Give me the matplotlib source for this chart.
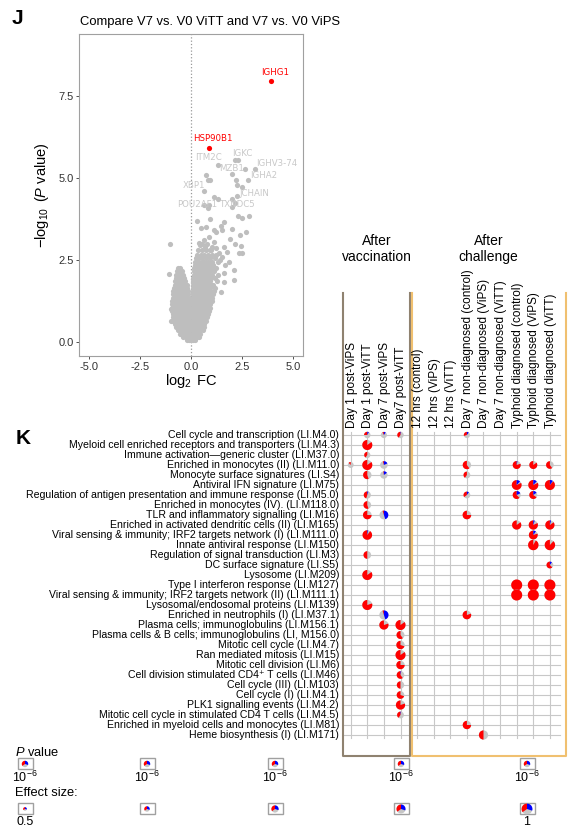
import numpy as np
import matplotlib.pyplot as plt
import matplotlib.transforms as mtransforms
from matplotlib.patches import Wedge, Circle, Rectangle

plt.rcParams['font.family'] = ['Liberation Sans', 'DejaVu Sans']
plt.rcParams['mathtext.fontset'] = 'custom'
plt.rcParams['mathtext.rm'] = 'Liberation Sans'
plt.rcParams['mathtext.it'] = 'Liberation Sans:italic'

# ---------------- panel J : volcano ----------------
# dense cloud, read row by row (y level, x values)
cloud_rows = [
    (0.05, [-0.22, -0.11, 0.0, 0.11, 0.22]),
    (0.15, [-0.38, -0.27, -0.16, -0.05, 0.06, 0.17, 0.28, 0.38]),
    (0.25, [-0.52, -0.40, -0.28, -0.16, -0.04, 0.08, 0.20, 0.32, 0.45]),
    (0.35, [-0.63, -0.51, -0.39, -0.27, -0.15, -0.03, 0.09, 0.21, 0.33, 0.45, 0.57]),
    (0.45, [-0.73, -0.61, -0.49, -0.37, -0.25, -0.13, -0.01, 0.11, 0.23, 0.35, 0.47, 0.62]),
    (0.55, [-0.80, -0.68, -0.56, -0.44, -0.32, -0.20, -0.08, 0.04, 0.16, 0.28, 0.40, 0.52, 0.66]),
    (0.65, [-0.87, -0.75, -0.63, -0.51, -0.39, -0.27, -0.15, -0.03, 0.09, 0.21, 0.33, 0.45, 0.57, 0.72]),
    (0.75, [-0.89, -0.77, -0.65, -0.53, -0.41, -0.29, -0.17, -0.05, 0.07, 0.19, 0.31, 0.43, 0.55, 0.67, 0.80]),
    (0.85, [-0.90, -0.78, -0.66, -0.54, -0.42, -0.30, -0.18, -0.06, 0.07, 0.19, 0.31, 0.43, 0.55, 0.67, 0.84]),
    (0.95, [-0.91, -0.79, -0.67, -0.55, -0.43, -0.31, -0.19, -0.07, 0.07, 0.19, 0.31, 0.43, 0.55, 0.67, 0.79, 0.88]),
    (1.05, [-0.92, -0.80, -0.68, -0.56, -0.44, -0.32, -0.20, -0.08, 0.06, 0.18, 0.30, 0.42, 0.54, 0.66, 0.78, 0.92]),
    (1.15, [-0.92, -0.80, -0.68, -0.56, -0.44, -0.32, -0.20, -0.07, 0.07, 0.19, 0.31, 0.43, 0.55, 0.67, 0.79, 0.95]),
    (1.25, [-0.91, -0.79, -0.67, -0.55, -0.43, -0.31, -0.19, -0.06, 0.07, 0.19, 0.31, 0.43, 0.55, 0.67, 0.79, 0.91, 1.02]),
    (1.35, [-0.90, -0.78, -0.66, -0.54, -0.42, -0.30, -0.18, -0.07, 0.08, 0.20, 0.32, 0.44, 0.56, 0.68, 0.80, 0.92, 1.05]),
    (1.45, [-0.88, -0.76, -0.64, -0.52, -0.40, -0.28, -0.14, 0.08, 0.20, 0.32, 0.44, 0.56, 0.68, 0.80, 0.92, 1.10]),
    (1.55, [-0.86, -0.74, -0.62, -0.50, -0.38, -0.26, -0.15, 0.09, 0.21, 0.33, 0.45, 0.57, 0.69, 0.81, 0.93, 1.12]),
    (1.65, [-0.83, -0.71, -0.59, -0.47, -0.35, -0.22, 0.10, 0.22, 0.34, 0.46, 0.58, 0.70, 0.82, 0.94, 1.20]),
    (1.75, [-0.81, -0.69, -0.57, -0.45, -0.33, -0.22, 0.10, 0.22, 0.34, 0.46, 0.58, 0.70, 0.82, 0.96, 1.10]),
    (1.85, [-0.79, -0.67, -0.55, -0.43, -0.31, 0.11, 0.23, 0.35, 0.47, 0.59, 0.71, 0.83, 0.95, 1.28]),
    (1.95, [-0.76, -0.64, -0.52, -0.40, -0.32, 0.12, 0.24, 0.36, 0.48, 0.60, 0.72, 0.84, 1.00, 1.18]),
    (2.05, [-0.72, -0.60, -0.48, -0.38, 0.13, 0.25, 0.37, 0.49, 0.61, 0.73, 0.88, 1.05, 1.32]),
    (2.15, [-0.70, -0.58, -0.46, 0.15, 0.27, 0.39, 0.51, 0.63, 0.78, 0.95, 1.15]),
    (2.25, [-0.66, -0.54, 0.17, 0.29, 0.41, 0.53, 0.68, 0.85, 1.02, 1.25]),
    (2.35, [0.20, 0.32, 0.44, 0.58, 0.72, 0.90, 1.10]),
    (2.45, [0.22, 0.36, 0.52, 0.66, 0.84, 1.05, 1.35]),
    (2.55, [0.26, 0.40, 0.55, 0.75, 0.95, 1.20]),
    (2.65, [0.30, 0.48, 0.62, 0.85, 1.05]),
    (2.80, [0.35, 0.55, 0.72, 0.92]),
]
# scattered genes above the cloud
sparse_x = [1.31, 2.17, 2.30, 2.63, 3.12, 2.01, 0.74, 0.83, 0.92, 2.22, 2.78, 2.25, 2.50,
            0.65, 1.11, 1.32, 2.01, 2.25, 0.62, 0.90, 0.82, 2.01, 2.17, 0.28, 0.95, 1.60,
            2.29, 2.50, 2.86, 0.51, 0.75, 1.11, 1.49, 1.23, 1.52, 2.01, 2.42, 2.70, -1.05,
            0.38, 0.54, 0.78, 1.03, 1.24, 1.60, 1.93, 2.17, 2.45, 2.37, 2.50, 1.76, 1.36,
            1.52, 1.85, 1.68, 2.09, 1.60, 2.12, 1.60, 1.49, -1.09, -0.96, -1.00, 0.45,
            0.62, 0.88, 1.15, 0.70, 0.98, 1.25, 1.40]
sparse_y = [5.41, 5.54, 5.56, 5.28, 5.28, 5.12, 5.10, 4.93, 4.95, 4.95, 4.93, 4.80, 4.72,
            4.62, 4.42, 4.37, 4.37, 4.44, 4.18, 4.18, 4.08, 4.13, 4.23, 3.70, 3.74, 3.67,
            3.83, 3.78, 3.85, 3.49, 3.52, 3.42, 3.54, 3.37, 3.42, 3.45, 3.27, 3.35, 2.99,
            3.03, 2.99, 2.99, 2.91, 2.86, 2.91, 3.13, 2.99, 2.94, 2.72, 2.72, 2.76, 2.70,
            2.60, 2.45, 2.35, 2.19, 2.09, 1.89, 1.84, 1.53, 2.07, 0.64, 0.99, 2.95,
            3.10, 3.20, 3.05, 2.90, 2.80, 2.65, 2.50]
hit_genes = ['IGHG1', 'HSP90B1']
hit_x = [3.92, 0.88]
hit_y = [7.95, 5.91]
gene_labels = ['IGKC', 'ITM2C', 'IGHV3-74', 'MZB1', 'IGHA2', 'XBP1', 'JCHAIN', 'POU2AF1', 'TXNDC5']
gene_lx = [2.52, 0.88, 4.22, 2.01, 3.58, 0.13, 3.12, 0.29, 2.30]
gene_ly = [5.76, 5.64, 5.46, 5.28, 5.07, 4.79, 4.52, 4.18, 4.18]

cloud_x = [x for y, xs in cloud_rows for x in xs]
cloud_y = [y for y, xs in cloud_rows for x in xs]

# ---------------- panel K : module pies ----------------
modules = [
    'Cell cycle and transcription (LI.M4.0)',
    'Myeloid cell enriched receptors and transporters (LI.M4.3)',
    'Immune activation\u2014generic cluster (LI.M37.0)',
    'Enriched in monocytes (II) (LI.M11.0)',
    'Monocyte surface signatures (LI.S4)',
    'Antiviral IFN signature (LI.M75)',
    'Regulation of antigen presentation and immune response (LI.M5.0)',
    'Enriched in monocytes (IV). (LI.M118.0)',
    'TLR and inflammatory signalling (LI.M16)',
    'Enriched in activated dendritic cells (II) (LI.M165)',
    'Viral sensing & immunity; IRF2 targets network (I) (LI.M111.0)',
    'Innate antiviral response (LI.M150)',
    'Regulation of signal transduction (LI.M3)',
    'DC surface signature (LI.S5)',
    'Lysosome (LI.M209)',
    'Type I interferon response (LI.M127)',
    'Viral sensing & immunity; IRF2 targets network (II) (LI.M111.1)',
    'Lysosomal/endosomal proteins (LI.M139)',
    'Enriched in neutrophils (I) (LI.M37.1)',
    'Plasma cells; immunoglobulins (LI.M156.1)',
    'Plasma cells & B cells; immunoglobulins (LI, M156.0)',
    'Mitotic cell cycle (LI.M4.7)',
    'Ran mediated mitosis (LI.M15)',
    'Mitotic cell division (LI.M6)',
    'Cell division stimulated CD4\u207a T cells (LI.M46)',
    'Cell cycle (III) (LI.M103)',
    'Cell cycle (I) (LI.M4.1)',
    'PLK1 signalling events (LI.M4.2)',
    'Mitotic cell cycle in stimulated CD4 T cells (LI.M4.5)',
    'Enriched in myeloid cells and monocytes (LI.M81)',
    'Heme biosynthesis (I) (LI.M171)',
]
comparisons = ['Day 1 post-ViPS', 'Day 1 post-ViTT', 'Day 7 post-ViPS', 'Day7 post-ViTT',
               '12 hrs (control)', '12 hrs (ViPS)', '12 hrs (ViTT)',
               'Day 7 non-diagnosed (control)', 'Day 7 non-diagnosed (ViPS)',
               'Day 7 non-diagnosed (ViTT)', 'Typhoid diagnosed (control)',
               'Typhoid diagnosed (ViPS)', 'Typhoid diagnosed (ViTT)']

cell_row = [0, 0, 0, 0, 1, 2, 3, 3, 3, 3, 3, 3, 3, 4, 4, 4, 5, 5, 5, 6, 6, 6, 6, 7, 8, 8, 8,
            9, 9, 9, 10, 10, 11, 11, 12, 13, 14, 15, 15, 15, 16, 16, 16, 17, 18, 18, 19, 19,
            20, 21, 22, 23, 24, 25, 26, 27, 28, 29, 30]
cell_col = [1, 2, 3, 7, 1, 1, 0, 1, 2, 7, 10, 11, 12, 1, 2, 7, 10, 11, 12, 1, 7, 10, 11, 1, 1, 2, 7,
            10, 11, 12, 1, 11, 11, 12, 1, 12, 1, 10, 11, 12, 10, 11, 12, 1, 2, 7, 2, 3,
            3, 3, 3, 3, 3, 3, 3, 3, 3, 7, 8]
cell_effect = [0.62, 0.60, 0.62, 0.60, 0.92, 0.60, 0.58, 0.92, 0.72, 0.78, 0.75, 0.75, 0.72,
               0.78, 0.70, 0.65, 0.90, 0.92, 0.92, 0.68, 0.65, 0.75, 0.75, 0.72, 0.80, 0.82, 0.80,
               0.85, 0.85, 0.85, 0.88, 0.82, 0.95, 0.95, 0.72, 0.65, 0.92, 1.0, 1.0, 1.0,
               1.0, 1.0, 1.0, 0.92, 0.85, 0.80, 0.85, 0.92,
               0.75, 0.78, 0.92, 0.78, 0.72, 0.70, 0.72, 0.85, 0.65, 0.78, 0.85]
cell_up = [0.25, 0.08, 0.40, 0.30, 0.85, 0.40, 0.12, 0.85, 0.05, 0.60, 0.80, 0.85, 0.60,
           0.55, 0.03, 0.40, 0.82, 0.82, 0.88, 0.45, 0.35, 0.62, 0.65, 0.55, 0.75, 0.05, 0.75,
           0.85, 0.82, 0.85, 0.90, 0.80, 0.92, 0.88, 0.50, 0.62, 0.85, 1.0, 1.0, 1.0,
           1.0, 1.0, 1.0, 0.80, 0.05, 0.80, 0.80, 0.85,
           0.60, 0.70, 0.85, 0.75, 0.60, 0.50, 0.70, 0.80, 0.40, 0.75, 0.50]
cell_down = [0.08, 0.10, 0.03, 0.10, 0, 0, 0, 0, 0.18, 0, 0.03, 0, 0,
             0, 0.15, 0, 0.12, 0.12, 0.10, 0.05, 0.10, 0.18, 0.15, 0, 0, 0.45, 0,
             0, 0.05, 0.04, 0.03, 0.10, 0, 0, 0, 0.10, 0, 0, 0, 0,
             0, 0, 0, 0, 0.45, 0, 0, 0,
             0, 0, 0, 0, 0.03, 0, 0, 0, 0.03, 0, 0]

legend_x = [25, 147, 275, 401, 527]
legend_effect = [0.5, 0.625, 0.75, 0.875, 1.0]

RED, BLUE, GREY = '#FF0000', '#0000FF', '#C6C6C6'

fig = plt.figure(figsize=(5.8, 8.3), dpi=100)
W, H = 580, 830


def box(l, t, r, b):
    return [l / W, 1 - b / H, (r - l) / W, (b - t) / H]


def pie(ax, x, y, r_px, up, down, trans):
    r = r_px / 100
    t = fig.dpi_scale_trans + mtransforms.ScaledTranslation(x, y, trans)
    ax.add_patch(Circle((0, 0), r, transform=t, fc=GREY, ec='none', clip_on=False))
    if up > 0:
        ax.add_patch(Wedge((0, 0), r, 90, 90 + 360 * up, transform=t, fc=RED, ec='none', clip_on=False))
    if down > 0:
        ax.add_patch(Wedge((0, 0), r, 90 - 360 * down, 90, transform=t, fc=BLUE, ec='none', clip_on=False))


# volcano
ax = fig.add_axes(box(79, 34, 303, 356))
ax.scatter(cloud_x, cloud_y, s=14, color='#BEBEBE', linewidths=0)
ax.scatter(sparse_x, sparse_y, s=14, color='#BEBEBE', linewidths=0)
ax.scatter(hit_x, hit_y, s=14, color='#FF0000', linewidths=0, zorder=3)
for g, x, y in zip(hit_genes, hit_x, hit_y):
    ax.text(x + 0.2, y + 0.15, g, color='#FF0000', fontsize=6.2, family='DejaVu Sans',
            ha='center', va='bottom')
for g, x, y in zip(gene_labels, gene_lx, gene_ly):
    ax.text(x, y, g, color='#C8C8C8', fontsize=6.2, family='DejaVu Sans', ha='center', va='center')
ax.axvline(0, color='#999999', ls=':', lw=0.9, zorder=0)
ax.set_xlim(-5.5, 5.5)
ax.set_ylim(-0.43, 9.4)
ax.set_xticks([-5, -2.5, 0, 2.5, 5])
ax.set_xticklabels(['-5.0', '-2.5', '0.0', '2.5', '5.0'])
ax.set_yticks([0, 2.5, 5, 7.5])
ax.set_yticklabels(['0.0', '2.5', '5.0', '7.5'])
ax.tick_params(labelsize=8, colors='#333333', length=2.5, width=0.6, pad=1.5)
for s in ax.spines.values():
    s.set_color('#A0A0A0')
    s.set_linewidth(0.8)
ax.set_ylabel(r'$-\log_{10}$ ($P$ value)', fontsize=10.5)
ax.yaxis.set_label_coords(-0.125, 0.5)
ax.set_xlabel(r'$\log_{2}$ FC', fontsize=10.5)
ax.xaxis.set_label_coords(0.5, -0.05)
fig.text(80 / W, 1 - 22 / H, 'Compare V7 vs. V0 ViTT and V7 vs. V0 ViPS', fontsize=9.4, va='center')
fig.text(17 / W, 1 - 19 / H, 'J', fontsize=15, fontweight='bold', ha='center', va='center')

# dot matrix: x = comparison index, y = module index
km = fig.add_axes(box(343, 293, 566, 757))
km.axis('off')
n_col, n_row = len(comparisons), len(modules)
x0, x1, y0, y1 = -0.464, 12.97, -14.2, 32.2
for i in range(n_col):
    km.plot([i, i], [-0.3, n_row - 0.7], color='#C8C8C8', lw=0.8, zorder=1)
for j in range(n_row):
    km.plot([x0, n_col - 0.4], [j, j], color='#C8C8C8', lw=0.8, zorder=1)
for r, c, es, up, dn in zip(cell_row, cell_col, cell_effect, cell_up, cell_down):
    pie(km, c, r, (12 * es - 1) / 2, up, dn, km.transData)
vac_edge = 3.6
km.plot([x0 + 0.03, x0 + 0.03, vac_edge, vac_edge], [y0, y1 - 0.1, y1 - 0.1, y0],
        color='#8F8270', lw=1.5, clip_on=False, zorder=3)
km.plot([vac_edge + 0.07, vac_edge + 0.07, x1 - 0.03, x1 - 0.03], [y0, y1 - 0.1, y1 - 0.1, y0],
        color='#F0C070', lw=1.5, clip_on=False, zorder=3)
for j, m in enumerate(modules):
    km.text(-0.7, j, m, ha='right', va='center', fontsize=7.6, clip_on=False)
for i, c in enumerate(comparisons):
    km.text(i + 0.05, -0.7, c, rotation=90, ha='center', va='bottom', fontsize=8.5, clip_on=False)
km.text(1.58, -18.6, 'After\nvaccination', ha='center', va='center', fontsize=10, linespacing=1.25)
km.text(8.3, -18.6, 'After\nchallenge', ha='center', va='center', fontsize=10, linespacing=1.25)
km.set_xlim(x0, x1)
km.set_ylim(y1, y0)
fig.text(23 / W, 1 - 438 / H, 'K', fontsize=15, fontweight='bold', ha='center', va='center')

# legend (figure pixel coordinates)
lg = fig.add_axes([0, 0, 1, 1])
lg.axis('off')
lg.set_xlim(0, W)
lg.set_ylim(H, 0)
lg.text(15, 752, '$P$ value', fontsize=9.3, va='center')
lg.text(15, 793, 'Effect size:', fontsize=9.3, va='center')
for k, (lx, es) in enumerate(zip(legend_x, legend_effect)):
    for ly, rp in [(763, 3.2), (808, 1.8 + 3.6 * (es - 0.5) * 2)]:
        lg.add_patch(Rectangle((lx - 7.5, ly - 5.5), 15, 11, fc='white', ec='#A0A0A0', lw=1))
        pie(lg, lx, ly + 1, rp, 0.35, 0.3, lg.transData)
    lg.text(lx, 777, '10$^{-6}$', fontsize=9, ha='center', va='center')
lg.text(legend_x[0], 822, '0.5', fontsize=9, ha='center', va='center')
lg.text(legend_x[-1], 822, '1', fontsize=9, ha='center', va='center')

fig.savefig('out.png', dpi=100)
